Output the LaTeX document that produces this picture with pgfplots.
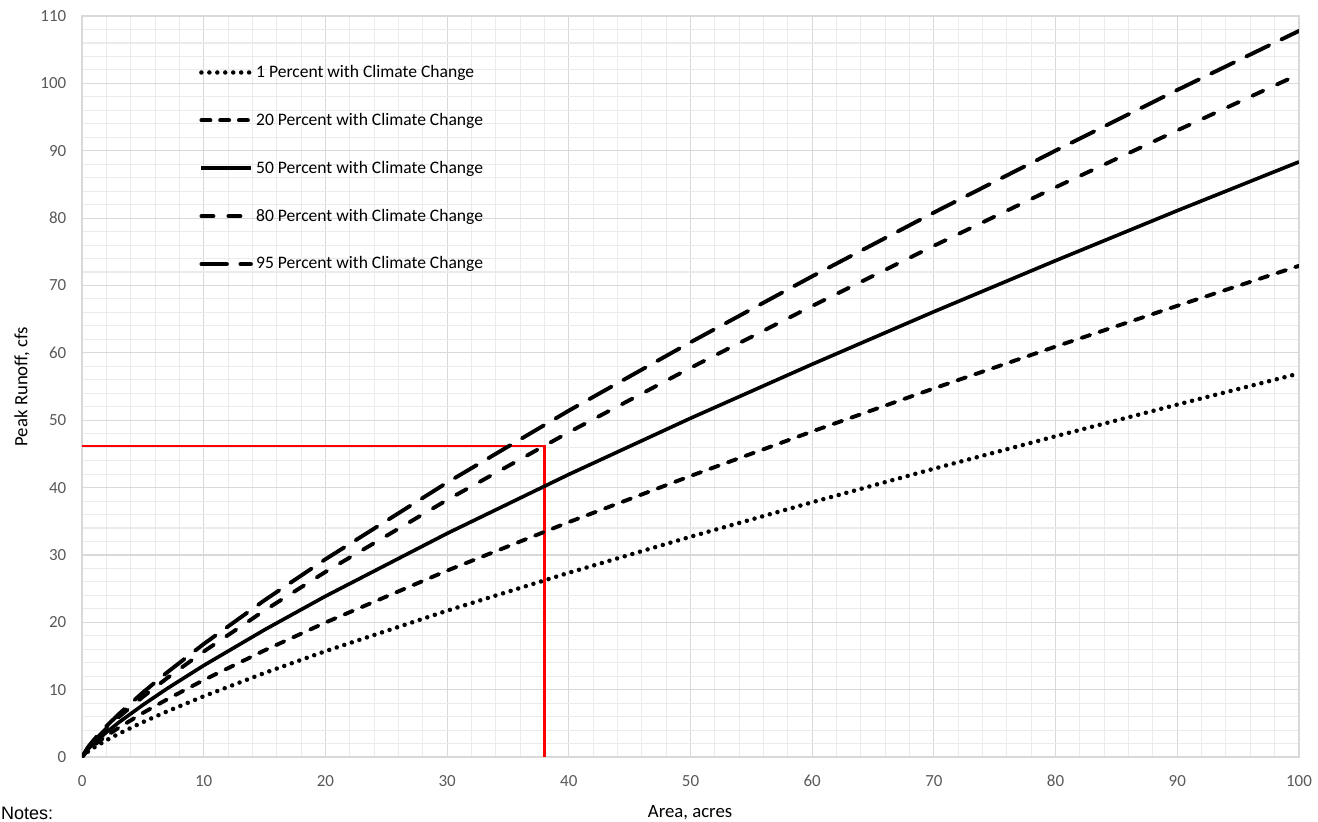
\documentclass[border=0pt]{standalone}
\usepackage{fontspec}
\setmainfont{Carlito}
\newfontfamily\arialfont{Liberation Sans}
\usepackage{pgfplots}
\usepackage{pgfplotstable}
\pgfplotsset{compat=1.18}
\usetikzlibrary{calc}
\definecolor{ticktext}{HTML}{595959}
\definecolor{majgrid}{HTML}{D9D9D9}
\definecolor{mingrid}{HTML}{EBEBEB}

\pgfplotstableread{
x y
0 0
0.5 0.82
1 1.43
2 2.49
3 3.44
5 5.18
7 6.78
10 9.02
15 12.48
20 15.71
30 21.72
40 27.35
50 32.70
60 37.82
70 42.80
80 47.62
90 52.32
100 56.93
}\pOne
\pgfplotstableread{
x y
0 0
0.5 1.02
1 1.79
2 3.13
3 4.33
5 6.54
7 8.57
10 11.43
15 15.83
20 19.96
30 27.67
40 34.87
50 41.72
60 48.33
70 54.72
80 60.93
90 66.98
100 72.91
}\pTwenty
\pgfplotstableread{
x y
0 0
0.5 1.19
1 2.09
2 3.67
3 5.11
5 7.73
7 10.17
10 13.59
15 18.89
20 23.87
30 33.19
40 41.95
50 50.29
60 58.31
70 66.11
80 73.69
90 81.11
100 88.35
}\pFifty
\pgfplotstableread{
x y
0 0
0.5 1.38
1 2.42
2 4.24
3 5.90
5 8.93
7 11.73
10 15.66
15 21.76
20 27.48
30 38.16
40 48.21
50 57.77
60 66.96
70 75.89
80 84.58
90 93.02
100 101.35
}\pEighty
\pgfplotstableread{
x y
0 0
0.5 1.49
1 2.61
2 4.57
3 6.34
5 9.58
7 12.57
10 16.78
15 23.28
20 29.36
30 40.74
40 51.42
50 61.57
60 71.36
70 80.83
80 90.02
90 99.02
100 107.79
}\pNinetyFive

\tikzset{
  s1/.style={black, line width=3pt, line cap=round, dash pattern=on 0pt off 5.3pt},
  s20/.style={black, line width=2.6pt, line cap=round, dash pattern=on 6pt off 6.5pt},
  s50/.style={black, line width=2.4pt},
  s80/.style={black, line width=2.6pt, line cap=round, dash pattern=on 8pt off 10pt},
  s95/.style={black, line width=2.6pt, line cap=round, dash pattern=on 17pt off 9pt},
}

\begin{document}
\begin{tikzpicture}
\begin{axis}[
  name=ax,
  scale only axis,
  width=811.3pt, height=494pt,
  xmin=0, xmax=100, ymin=0, ymax=110,
  xtick={0,10,...,100}, ytick={0,10,...,110},
  minor x tick num=4, minor y tick num=4,
  grid=both,
  major grid style={majgrid, line width=0.8pt},
  minor grid style={mingrid, line width=0.7pt},
  axis line style={majgrid, line width=0.8pt},
  major tick length=0pt, minor tick length=0pt,
  /pgf/number format/assume math mode=true,
  tick label style={font=\fontsize{11.3}{13}\selectfont, text=ticktext},
  yticklabel style={xshift=-7pt},
  xticklabel style={yshift=-8.6pt},
  xlabel={Area, acres},
  ylabel={Peak Runoff, cfs},
  label style={font=\fontsize{12.5}{14}\selectfont},
  xlabel style={at={(axis description cs:0.4996,-0.0745)}, anchor=center},
  ylabel style={at={(axis description cs:-0.0493,0.5)}, anchor=center},
  legend style={at={(0.096,0.938)}, anchor=north west, draw=none, fill=none,
    font=\fontsize{11.7}{14}\selectfont, row sep=18.3pt, inner sep=0pt},
  legend cell align=left,
  legend image code/.code={\draw[#1] (0pt,0pt) -- (33pt,0pt);},
]
\addplot[red, line width=1.5pt, forget plot] coordinates {(0,46.2) (38,46.2) (38,0)};
\addplot[s1] table {\pOne};
\addlegendentry{1 Percent with Climate Change}
\addplot[s20] table {\pTwenty};
\addlegendentry{20 Percent with Climate Change}
\addplot[s50] table {\pFifty};
\addlegendentry{50 Percent with Climate Change}
\addplot[s80] table {\pEighty};
\addlegendentry{80 Percent with Climate Change}
\addplot[s95] table {\pNinetyFive};
\addlegendentry{95 Percent with Climate Change}
\end{axis}
\node[anchor=north west, inner sep=0pt, font=\arialfont\fontsize{12}{14}\selectfont]
  at ($(ax.south west)+(-54.2pt,-33.3pt)$) {Notes:};
\pgfresetboundingbox
\path[use as bounding box] ($(ax.south west)+(-54.7pt,-43.3pt)$) rectangle ($(ax.north east)+(12.7pt,10.7pt)$);
\end{tikzpicture}
\end{document}
